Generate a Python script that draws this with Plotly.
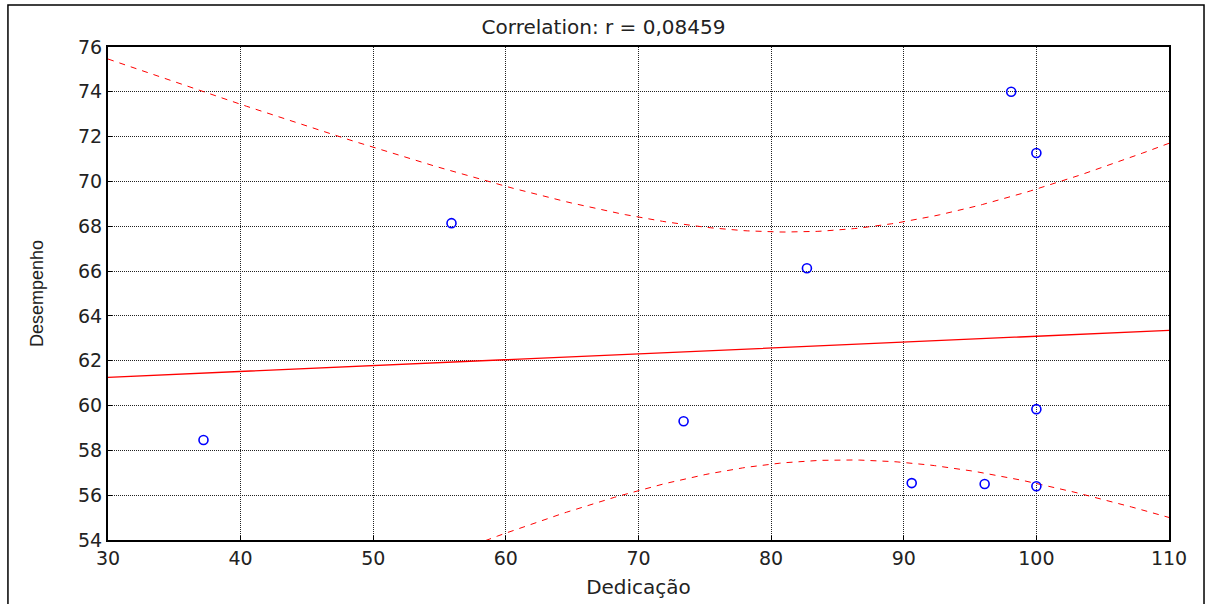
import numpy as np
import plotly.graph_objects as go

# Data
dedicacao = [37.2, 55.9, 73.4, 82.7, 90.6, 96.1, 100.0, 100.0, 100.0, 98.1]
desempenho = [58.46, 68.14, 59.3, 66.13, 56.54, 56.5, 56.4, 59.84, 71.27, 74.0]
x_ticks = [30, 40, 50, 60, 70, 80, 90, 100, 110]
y_ticks = [54, 56, 58, 60, 62, 64, 66, 68, 70, 72, 74, 76]
title_text = "Correlation: r = 0,08459"

# Linear fit and 95% confidence bands computed from the data
x = np.array(dedicacao)
y = np.array(desempenho)
n = len(x)
slope, intercept = np.polyfit(x, y, 1)
xbar = x.mean()
sxx = ((x - xbar) ** 2).sum()
resid = y - (intercept + slope * x)
s = np.sqrt((resid ** 2).sum() / (n - 2))
t_crit = 2.306  # t(0.975, df=8)
xf = np.linspace(30, 110, 200)
yf = intercept + slope * xf
half = t_crit * s * np.sqrt(1.0 / n + (xf - xbar) ** 2 / sxx)

fig = go.Figure()
fig.add_trace(go.Scatter(x=xf, y=yf + half, mode="lines",
                         line=dict(color="red", width=1, dash="6px,6px"), hoverinfo="skip"))
fig.add_trace(go.Scatter(x=xf, y=yf - half, mode="lines",
                         line=dict(color="red", width=1, dash="6px,6px"), hoverinfo="skip"))
fig.add_trace(go.Scatter(x=xf, y=yf, mode="lines",
                         line=dict(color="red", width=1.3), hoverinfo="skip"))
fig.add_trace(go.Scatter(x=dedicacao, y=desempenho, mode="markers",
                         marker=dict(symbol="circle-open", size=9, color="blue",
                                     line=dict(width=1.6, color="blue"))))

font_family = "DejaVu Sans, Liberation Sans, Arial"
axis_common = dict(
    showgrid=True, gridcolor="#222", gridwidth=1, griddash="1px,1px",
    showline=True, linecolor="black", linewidth=2, mirror=True,
    ticks="inside", ticklen=4, tickcolor="black",
    tickfont=dict(family=font_family, size=19, color="#222"),
    zeroline=False, automargin=False,
)
fig.update_xaxes(range=[30, 110], tickvals=x_ticks, **axis_common,
                 title=dict(text="Dedicação", font=dict(family=font_family, size=20, color="#222"),
                            standoff=12))
fig.update_yaxes(range=[54, 76], tickvals=y_ticks, **axis_common,
                 title=dict(text="Desempenho", font=dict(family="Liberation Sans Narrow, Liberation Sans, Arial", size=18, color="#222"),
                            standoff=30))

fig.add_shape(type="rect", xref="paper", yref="paper",
              x0=-0.0943, x1=1.033, y0=-0.3, y1=1.0852,
              line=dict(color="black", width=1.5), layer="below")

fig.update_layout(
    width=1207, height=604,
    margin=dict(l=108, r=38, t=47, b=64),
    paper_bgcolor="white", plot_bgcolor="white",
    showlegend=False,
    title=dict(text=title_text, x=0.5, xanchor="center", y=0.955, yanchor="middle",
               font=dict(family=font_family, size=20, color="#222")),
)

fig.write_html("out.html", config={"displayModeBar": False},
               post_script="document.body.style.margin='0';")
